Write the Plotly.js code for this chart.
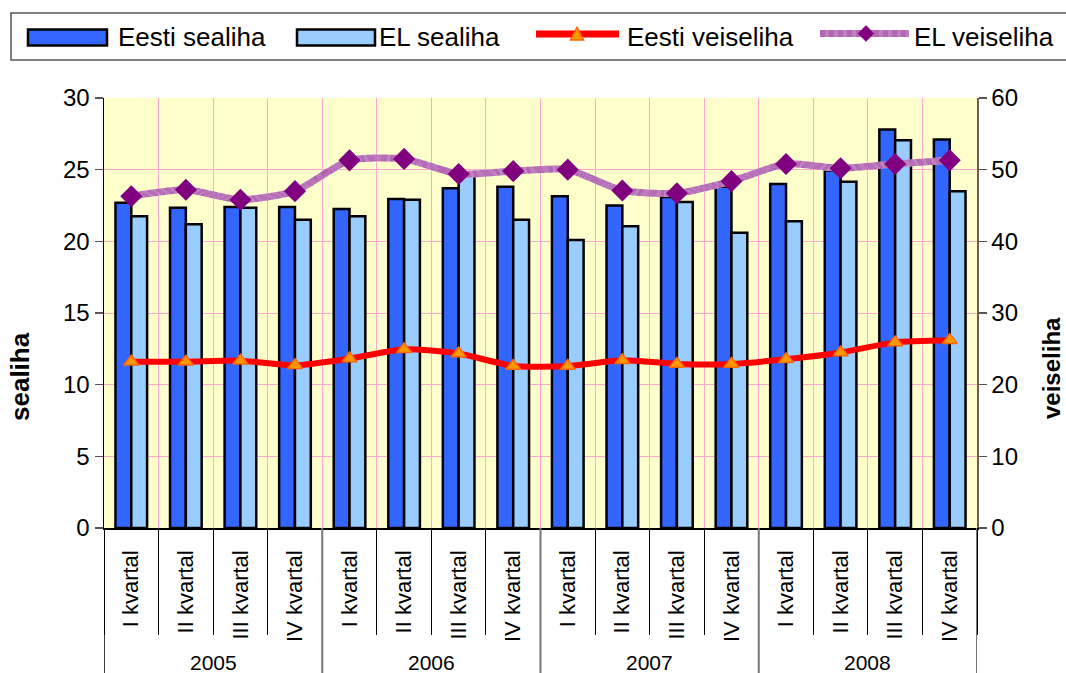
<!DOCTYPE html>
<html>
<head>
<meta charset="utf-8">
<script src="https://cdn.plot.ly/plotly-3.0.1.min.js"></script>
<style>html,body{margin:0;padding:0;background:#fff;}#chart{width:1066px;height:673px;}</style>
</head>
<body>
<div id="chart"></div>
<script>
// ---- data ----
const years = ['2005', '2006', '2007', '2008'];
const quarters = ['I kvartal', 'II kvartal', 'III kvartal', 'IV kvartal'];
const eestiSealiha = [22.7, 22.35, 22.4, 22.4, 22.25, 22.95, 23.7, 23.8, 23.15, 22.5, 23.1, 23.8, 24.0, 24.95, 27.8, 27.1];
const elSealiha = [21.75, 21.2, 22.35, 21.5, 21.75, 22.9, 24.6, 21.5, 20.1, 21.05, 22.75, 20.6, 21.4, 24.15, 27.05, 23.5];
const eestiVeiseliha = [23.2, 23.2, 23.35, 22.7, 23.65, 24.95, 24.35, 22.6, 22.6, 23.4, 22.9, 22.9, 23.55, 24.5, 25.9, 26.2];
const elVeiseliha = [46.3, 47.2, 45.8, 47.0, 51.3, 51.5, 49.4, 49.8, 50.0, 47.1, 46.7, 48.4, 50.8, 50.2, 50.8, 51.3];
const seriesNames = ['Eesti sealiha', 'EL sealiha', 'Eesti veiseliha', 'EL veiseliha'];
const leftTitle = 'sealiha';
const rightTitle = 'veiseliha';

// ---- build category positions ----
const xIdx = [];
const tickText = [];
years.forEach(function (y, yi) {
  quarters.forEach(function (q, qi) {
    xIdx.push(yi * quarters.length + qi);
    tickText.push(q);
  });
});

const FONT = 'Liberation Sans, Arial, sans-serif';
const W = 1066, H = 673;
const L = 104, R = 977, T = 98, B = 528;
function px(v) { return (v - L) / (R - L); }
function py(v) { return (B - v) / (B - T); }

const C_EESTI = '#3366ff', C_EL = '#99ccff', C_RED = '#ff0000', C_ORANGE = '#ff9900', C_PURPLE = '#800080';
const DOTS = '0.5px,0.4px';

const traces = [
  { type: 'bar', name: seriesNames[0], x: xIdx, y: eestiSealiha, marker: { color: C_EESTI, line: { color: '#000', width: 2.5 } }, showlegend: false },
  { type: 'bar', name: seriesNames[1], x: xIdx, y: elSealiha, marker: { color: C_EL, line: { color: '#000', width: 2.5 } }, showlegend: false },
  { type: 'scatter', mode: 'lines', x: xIdx, y: elVeiseliha, yaxis: 'y2', line: { color: '#ffffff', width: 7, shape: 'spline', smoothing: 0.6 }, showlegend: false, hoverinfo: 'skip' },
  { type: 'scatter', mode: 'lines+markers', name: seriesNames[3], x: xIdx, y: elVeiseliha, yaxis: 'y2', line: { color: C_PURPLE, width: 7, shape: 'spline', smoothing: 0.6, dash: DOTS }, marker: { symbol: 'diamond', size: 17, color: C_PURPLE }, showlegend: false },
  { type: 'scatter', mode: 'lines+markers', name: seriesNames[2], x: xIdx, y: eestiVeiseliha, yaxis: 'y2', line: { color: C_RED, width: 6, shape: 'spline', smoothing: 0.6 }, marker: { symbol: 'triangle-up', size: 13, color: C_ORANGE, line: { color: '#ff6600', width: 1.5 } }, showlegend: false }
];

// ---- shapes: year dividers + custom legend ----
const shapes = [];
for (let k = 0; k <= years.length; k++) {
  shapes.push({ type: 'line', xref: 'x', yref: 'paper', x0: k * quarters.length - 0.5, x1: k * quarters.length - 0.5, y0: 0, y1: py(675), line: { color: k === 0 ? '#000' : '#777', width: k === 0 ? 1.5 : 2 } });
}
// legend frame
shapes.push({ type: 'rect', xref: 'paper', yref: 'paper', x0: px(11), x1: px(1080), y0: py(13), y1: py(60), line: { color: '#555', width: 1.5 }, fillcolor: '#fff', layer: 'below' });
// bar swatches
shapes.push({ type: 'rect', xref: 'paper', yref: 'paper', x0: px(28), x1: px(107), y0: py(29.5), y1: py(45.5), fillcolor: C_EESTI, line: { color: '#000', width: 2.5 } });
shapes.push({ type: 'rect', xref: 'paper', yref: 'paper', x0: px(297), x1: px(375), y0: py(29.5), y1: py(45.5), fillcolor: C_EL, line: { color: '#000', width: 2.5 } });
// red line swatch
shapes.push({ type: 'line', xref: 'paper', yref: 'paper', x0: px(536), x1: px(619), y0: py(34), y1: py(34), line: { color: C_RED, width: 7 } });
shapes.push({ type: 'path', xref: 'paper', yref: 'paper', path: 'M' + px(570.5) + ',' + py(40) + ' L' + px(583.5) + ',' + py(40) + ' L' + px(577) + ',' + py(27.5) + ' Z', fillcolor: C_ORANGE, line: { color: '#ff6600', width: 1.5 } });
// dotted purple swatch
shapes.push({ type: 'line', xref: 'paper', yref: 'paper', x0: px(820), x1: px(909), y0: py(33.5), y1: py(33.5), line: { color: '#fff', width: 7 } });
shapes.push({ type: 'line', xref: 'paper', yref: 'paper', x0: px(820), x1: px(909), y0: py(33.5), y1: py(33.5), line: { color: C_PURPLE, width: 7, dash: DOTS } });
shapes.push({ type: 'path', xref: 'paper', yref: 'paper', path: 'M' + px(858) + ',' + py(33.5) + ' L' + px(866) + ',' + py(25.5) + ' L' + px(874) + ',' + py(33.5) + ' L' + px(866) + ',' + py(41.5) + ' Z', fillcolor: C_PURPLE, line: { color: C_PURPLE, width: 0.5 } });

// ---- annotations ----
const annotations = [];
years.forEach(function (y, yi) {
  annotations.push({ xref: 'x', yref: 'paper', x: yi * quarters.length + (quarters.length - 1) / 2, y: py(662), text: y, showarrow: false, font: { family: FONT, size: 21, color: '#000' }, xanchor: 'center', yanchor: 'middle' });
});
const legendTextX = [116, 377, 625, 912];
seriesNames.forEach(function (n, i) {
  annotations.push({ xref: 'paper', yref: 'paper', x: px(legendTextX[i]), y: py(37), text: n, showarrow: false, font: { family: FONT, size: 26, color: '#000' }, xanchor: 'left', yanchor: 'middle' });
});
annotations.push({ xref: 'paper', yref: 'paper', x: px(20), y: py(377), text: '<b>' + leftTitle + '</b>', textangle: -90, showarrow: false, font: { family: FONT, size: 26, color: '#000' }, xanchor: 'center', yanchor: 'middle' });
annotations.push({ xref: 'paper', yref: 'paper', x: px(1051), y: py(368), text: '<b>' + rightTitle + '</b>', textangle: -90, showarrow: false, font: { family: FONT, size: 24, color: '#000' }, xanchor: 'center', yanchor: 'middle' });

const layout = {
  width: W, height: H,
  margin: { l: L, r: W - R, t: T, b: H - B, pad: 0 },
  paper_bgcolor: '#ffffff',
  plot_bgcolor: '#ffffcc',
  barmode: 'group', bargap: 0.42, bargroupgap: 0,
  showlegend: false,
  font: { family: FONT, color: '#000' },
  xaxis: {
    range: [-0.5, xIdx.length - 0.5],
    tickmode: 'array', tickvals: xIdx, ticktext: tickText,
    tickangle: -90, ticks: '', ticklabelstandoff: 12,
    tickfont: { family: FONT, size: 22, color: '#000' },
    showgrid: false, zeroline: false,
    showline: true, linecolor: '#000', linewidth: 1.5,
    minor: { tick0: -0.5, dtick: 1, ticks: 'outside', ticklen: 105, tickcolor: '#000', tickwidth: 1, showgrid: true, gridcolor: '#ffa8d0', gridwidth: 1 }
  },
  yaxis: {
    range: [0, 30], dtick: 5, tick0: 0,
    ticks: 'outside', ticklen: 8, tickcolor: '#555', tickwidth: 1.5,
    tickfont: { family: FONT, size: 24, color: '#000' },
    showline: true, linecolor: '#000', linewidth: 1.5,
    showgrid: true, gridcolor: '#ffa8d0', gridwidth: 1, zeroline: false
  },
  yaxis2: {
    range: [0, 60], dtick: 10, tick0: 0, overlaying: 'y', side: 'right',
    ticks: 'outside', ticklen: 8, tickcolor: '#555', tickwidth: 1.5,
    tickfont: { family: FONT, size: 24, color: '#000' },
    showline: true, linecolor: '#705858', linewidth: 1.5,
    showgrid: false, zeroline: false
  },
  shapes: shapes,
  annotations: annotations
};

Plotly.newPlot('chart', traces, layout, { displayModeBar: false, staticPlot: true });
</script>
</body>
</html>
